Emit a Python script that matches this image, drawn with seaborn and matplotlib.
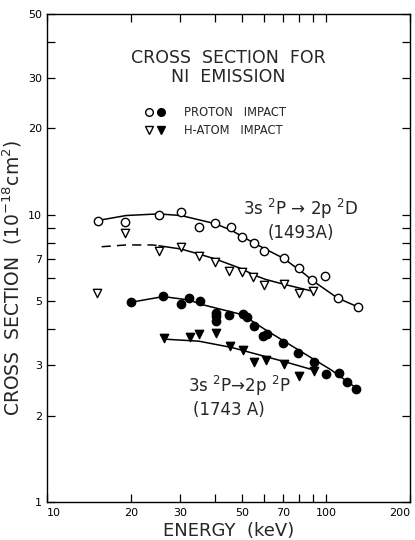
import matplotlib
matplotlib.use("Agg")
import matplotlib.pyplot as plt
import seaborn as sns
from matplotlib.lines import Line2D
from matplotlib.legend_handler import HandlerTuple
from matplotlib.ticker import FixedLocator, NullFormatter

# ---------------- data ----------------
# 3s 2P -> 2p 2D (1493 A)
proton_D_E = [15.2, 19.1, 25.1, 30.2, 35.1, 40.1, 45.5, 49.9, 55.4, 60.0, 70.5, 80.0, 88.9, 99.2, 110, 130]
proton_D_v = [9.55, 9.43, 10.0, 10.2, 9.1, 9.39, 9.09, 8.35, 7.98, 7.49, 7.05, 6.55, 5.95, 6.1, 5.13, 4.77]
hatom_D_E = [15.1, 19.1, 25.1, 30.2, 35.1, 40.0, 44.9, 49.9, 54.6, 60.1, 70.5, 80.0, 89.7]
hatom_D_v = [5.33, 8.62, 7.46, 7.70, 7.20, 6.86, 6.38, 6.32, 6.06, 5.69, 5.76, 5.36, 5.44]

# 3s 2P -> 2p 2P (1743 A)
proton_P_E = [20.0, 26.1, 30.1, 32.3, 35.4, 40.2, 40.2, 40.2, 44.8, 50.4, 52.3, 55.4, 59.3, 61.7,
              70.1, 79.5, 90.3, 100, 111, 119, 128.6]
proton_P_v = [4.95, 5.21, 4.88, 5.14, 5.00, 4.56, 4.43, 4.26, 4.49, 4.52, 4.42, 4.11, 3.79, 3.85,
              3.59, 3.30, 3.08, 2.79, 2.81, 2.62, 2.47]
hatom_P_E = [26.3, 32.5, 35.2, 40.4, 45.1, 50.2, 55.4, 61.0, 70.5, 80.3, 90.3]
hatom_P_v = [3.72, 3.74, 3.85, 3.88, 3.49, 3.39, 3.06, 3.12, 3.03, 2.75, 2.86]

# hand-drawn curves
fit_pD_E = [15.2, 19.2, 25.1, 30.2, 35.9, 40.2, 46, 50, 55.6, 60.6, 70.5, 84, 89.9, 110, 130]
fit_pD_v = [9.55, 9.94, 10.07, 9.94, 9.55, 9.3, 8.81, 8.41, 7.94, 7.6, 7.05, 6.21, 5.88, 5.13, 4.78]
fit_hD_dash_E = [15.7, 19.2, 23.9, 25.2]
fit_hD_dash_v = [7.74, 7.85, 7.85, 7.8]
fit_hD_E = [25.2, 30.2, 35, 40.2, 50, 54.7, 60.6, 70.5, 88.7]
fit_hD_v = [7.8, 7.6, 7.3, 7.01, 6.48, 6.19, 5.96, 5.73, 5.43]
fit_pP_E = [20, 26.1, 32.3, 35.9, 50.1, 60.6, 79.4, 104.5, 128.6]
fit_pP_v = [4.96, 5.19, 5.05, 4.87, 4.49, 3.98, 3.39, 2.88, 2.49]
fit_hP_E = [26.3, 35, 46, 60.6, 71, 90.3]
fit_hP_v = [3.69, 3.63, 3.45, 3.21, 3.08, 2.88]

x_ticks = [10, 20, 30, 50, 70, 100, 200]
y_ticks = [1, 2, 3, 5, 7, 10, 20, 30, 50]

# ---------------- plot ----------------
sns.set_style("ticks")
plt.rcParams["font.family"] = ["DejaVu Sans"]

fig = plt.figure(figsize=(4.15, 5.4), dpi=100)
ax = fig.add_axes([47 / 415, 1 - 502 / 540, (410 - 47) / 415, (502 - 14) / 540])
ax.set_xscale("log")
ax.set_yscale("log")
ax.set_xlim(10, 200)
ax.set_ylim(1, 50)

lw = 1.1
for E, v, ls in [(fit_pD_E, fit_pD_v, "-"), (fit_hD_dash_E, fit_hD_dash_v, (0, (6, 4))),
                 (fit_hD_E, fit_hD_v, "-"), (fit_pP_E, fit_pP_v, "-"), (fit_hP_E, fit_hP_v, "-")]:
    sns.lineplot(x=E, y=v, ax=ax, color="black", lw=lw, linestyle=ls, sort=True, estimator=None)

ms = 36
sns.scatterplot(x=proton_D_E, y=proton_D_v, ax=ax, marker="o", s=ms, facecolor="white",
                edgecolor="black", linewidth=1.0, zorder=3)
sns.scatterplot(x=hatom_D_E, y=hatom_D_v, ax=ax, marker="v", s=ms, facecolor="white",
                edgecolor="black", linewidth=1.0, zorder=3)
sns.scatterplot(x=proton_P_E, y=proton_P_v, ax=ax, marker="o", s=ms, facecolor="black",
                edgecolor="black", linewidth=1.0, zorder=3)
sns.scatterplot(x=hatom_P_E, y=hatom_P_v, ax=ax, marker="v", s=ms, facecolor="black",
                edgecolor="black", linewidth=1.0, zorder=3)

# ticks
ax.xaxis.set_major_locator(FixedLocator(x_ticks))
ax.set_xticklabels([str(t) for t in x_ticks])
ax.xaxis.set_minor_locator(FixedLocator([40, 60, 80, 90]))
ax.xaxis.set_minor_formatter(NullFormatter())
ax.yaxis.set_major_locator(FixedLocator(y_ticks))
ax.set_yticklabels([str(t) for t in y_ticks])
ax.yaxis.set_minor_locator(FixedLocator([4, 6, 8, 9, 40]))
ax.yaxis.set_minor_formatter(NullFormatter())
ax.tick_params(which="both", direction="in", top=True, right=True, width=0.9,
               labelsize=8, colors="black", length=6)
ax.tick_params(axis="x", pad=4)
xl = ax.get_xticklabels()
xl[0].set_horizontalalignment("left")
xl[-1].set_horizontalalignment("right")
for s in ax.spines.values():
    s.set_linewidth(1.0)
    s.set_color("black")

ax.set_xlabel("ENERGY  (keV)", fontsize=13)
ax.xaxis.set_label_coords(0.5, -0.041)
ax.set_ylabel("CROSS  SECTION  (10$^{-18}$cm$^2$)", fontsize=13.5)
ax.yaxis.set_label_coords(-0.062, 0.46)

# title text
ax.text(0.5, 0.909, "CROSS  SECTION  FOR", transform=ax.transAxes, ha="center",
        va="center", fontsize=12.5)
ax.text(0.5, 0.870, "NI  EMISSION", transform=ax.transAxes, ha="center",
        va="center", fontsize=12.5)

# legend
h_po = Line2D([], [], marker="o", ls="none", mfc="white", mec="black", ms=5.5)
h_pf = Line2D([], [], marker="o", ls="none", mfc="black", mec="black", ms=5.5)
h_ho = Line2D([], [], marker="v", ls="none", mfc="white", mec="black", ms=5.5)
h_hf = Line2D([], [], marker="v", ls="none", mfc="black", mec="black", ms=5.5)
ax.legend([(h_po, h_pf), (h_ho, h_hf)], ["PROTON   IMPACT", "H-ATOM   IMPACT"],
          handler_map={tuple: HandlerTuple(ndivide=None, pad=0.3)},
          loc="center left", bbox_to_anchor=(0.24, 0.78), frameon=False,
          fontsize=8.3, handlelength=1.8, handletextpad=1.6, labelspacing=0.45)

# annotations
ax.text(0.70, 0.60, "3s $^2$P → 2p $^2$D", transform=ax.transAxes, ha="center",
        va="center", fontsize=12)
ax.text(0.70, 0.552, "(1493A)", transform=ax.transAxes, ha="center",
        va="center", fontsize=12)
ax.text(0.53, 0.238, "3s $^2$P→2p $^2$P", transform=ax.transAxes, ha="center",
        va="center", fontsize=12)
ax.text(0.50, 0.188, "(1743 A)", transform=ax.transAxes, ha="center",
        va="center", fontsize=12)

fig.savefig("out.png", dpi=100, facecolor="white")
